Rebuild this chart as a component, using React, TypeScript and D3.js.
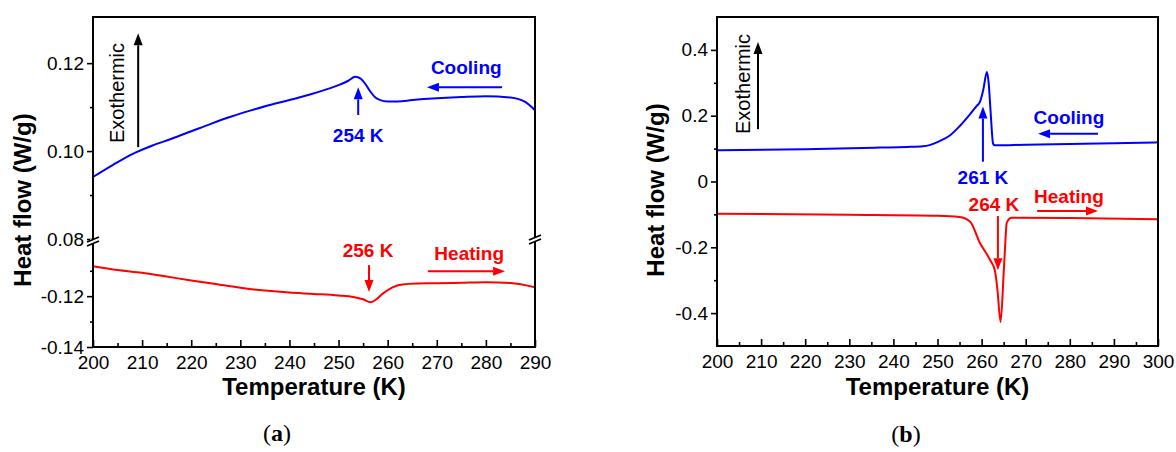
import { useRef, useEffect } from 'react';
import * as d3 from 'd3';

// panel (a): cooling / heating curves (temperature K, heat flow W/g)
const aCoolT = [200, 204, 208, 212, 216, 220, 224, 228, 232, 236, 240, 244, 248, 250, 252, 253.4, 254.5, 255.5, 256.5, 257.5, 258.5, 260, 262, 265, 270, 275, 280, 285, 288, 290];
const aCoolQ = [0.0941, 0.0968, 0.0993, 0.1012, 0.1028, 0.1045, 0.1062, 0.1078, 0.1092, 0.1105, 0.1116, 0.1128, 0.1142, 0.115, 0.116, 0.1169, 0.1165, 0.1152, 0.1135, 0.1122, 0.1116, 0.1113, 0.1113, 0.1116, 0.112, 0.1123, 0.1125, 0.1122, 0.1112, 0.1093];
const aHeatT = [200, 205, 210, 215, 220, 225, 230, 235, 240, 245, 250, 253, 255, 256.5, 257.5, 259, 261, 263, 266, 270, 275, 280, 285, 290];
const aHeatQ = [-0.1082, -0.1097, -0.1108, -0.1123, -0.1138, -0.1152, -0.1167, -0.1178, -0.1186, -0.1191, -0.1197, -0.1203, -0.1212, -0.1224, -0.1215, -0.119, -0.1165, -0.1154, -0.115, -0.1149, -0.1147, -0.1145, -0.1148, -0.1165];

// panel (b)
const bCoolT = [200, 220, 237, 243, 246.7, 250.5, 252.8, 255, 257.4, 258.9, 259.6, 260.4, 261.2, 261.6, 262.1, 262.6, 263, 270, 280, 290, 300];
const bCoolQ = [0.095, 0.098, 0.103, 0.105, 0.107, 0.123, 0.14, 0.168, 0.205, 0.23, 0.241, 0.28, 0.333, 0.3, 0.2, 0.115, 0.11, 0.112, 0.114, 0.116, 0.119];
const bHeatT = [200, 230, 250, 255, 257.4, 259.6, 261.9, 263, 263.6, 264.3, 265, 265.4, 265.7, 266.8, 280, 300];
const bHeatQ = [-0.098, -0.101, -0.104, -0.108, -0.122, -0.186, -0.238, -0.27, -0.33, -0.427, -0.28, -0.18, -0.125, -0.11, -0.111, -0.115];

const aXTicks = [200, 210, 220, 230, 240, 250, 260, 270, 280, 290];
const aXMinor = [205, 215, 225, 235, 245, 255, 265, 275, 285];
const bXTicks = [200, 210, 220, 230, 240, 250, 260, 270, 280, 290, 300];
const bXMinor = [205, 215, 225, 235, 245, 255, 265, 275, 285, 295];
const aTopTicks = [0.08, 0.1, 0.12];
const aTopMinor = [0.09, 0.11];
const aBotTicks = [-0.14, -0.12];
const aBotMinor = [-0.13, -0.11];
const bYTicks = [-0.4, -0.2, 0, 0.2, 0.4];
const bYMinor = [-0.3, -0.1, 0.1, 0.3];

const FONT = "'Liberation Sans', Arial, sans-serif";
const BLUE = '#0000ff';
const RED = '#ff0000';

// panel geometry
const A = { left: 93, right: 535, top: 17, bottom: 347, brk: 239 };
const B = { left: 717, right: 1158, top: 17, bottom: 346 };

const xA = d3.scaleLinear([200, 290], [A.left, A.right]);
const yATop = d3.scaleLinear([0.08, 0.1305], [A.brk, A.top]);
const yABot = d3.scaleLinear([-0.14, -0.0975], [A.bottom, A.brk]);
const xB = d3.scaleLinear([200, 300], [B.left, B.right]);
const yB = d3.scaleLinear([-0.5, 0.5], [B.bottom, B.top]);

function styleAxis(g: any) {
  g.select('.domain').remove();
  g.selectAll('line').attr('stroke', '#000').attr('stroke-width', 1.6);
  g.selectAll('text').attr('font-size', 19).attr('font-family', FONT).attr('fill', '#000');
}

function Arrow({ x1, y1, x2, y2, color }: { x1: number; y1: number; x2: number; y2: number; color: string }) {
  const ang = Math.atan2(y2 - y1, x2 - x1);
  const len = 12, hw = 4.5;
  const bx = x2 - len * Math.cos(ang), by = y2 - len * Math.sin(ang);
  const px = -Math.sin(ang) * hw, py = Math.cos(ang) * hw;
  return (
    <g>
      <line x1={x1} y1={y1} x2={bx} y2={by} stroke={color} strokeWidth={2} />
      <polygon points={`${x2},${y2} ${bx + px},${by + py} ${bx - px},${by - py}`} fill={color} />
    </g>
  );
}

function BreakMark({ x, y }: { x: number; y: number }) {
  return (
    <g stroke="#000" strokeWidth={1.8}>
      <rect x={x - 3} y={y - 2} width={6} height={4} fill="#fff" stroke="none" />
      <line x1={x - 6} y1={y + 1} x2={x + 6} y2={y - 4} />
      <line x1={x - 6} y1={y + 5} x2={x + 6} y2={y} />
    </g>
  );
}

export default function App() {
  const gaxA = useRef<SVGGElement>(null);
  const gaxAm = useRef<SVGGElement>(null);
  const gayT = useRef<SVGGElement>(null);
  const gayTm = useRef<SVGGElement>(null);
  const gayB = useRef<SVGGElement>(null);
  const gayBm = useRef<SVGGElement>(null);
  const gbx = useRef<SVGGElement>(null);
  const gbxm = useRef<SVGGElement>(null);
  const gby = useRef<SVGGElement>(null);
  const gbym = useRef<SVGGElement>(null);

  useEffect(() => {
    const f2 = (d: any) => (+d).toFixed(2);
    const fb = (d: any) => (+d === 0 ? '0' : (+d).toFixed(1));

    d3.select(gaxA.current!).call(d3.axisBottom(xA).tickValues(aXTicks).tickSize(-7).tickPadding(9).tickFormat(d3.format('d')) as any).call(styleAxis);
    d3.select(gaxAm.current!).call(d3.axisBottom(xA).tickValues(aXMinor).tickSize(-4).tickFormat(() => '') as any).call(styleAxis);
    d3.select(gayT.current!).call(d3.axisLeft(yATop).tickValues(aTopTicks).tickSize(6).tickPadding(3).tickFormat(f2) as any).call(styleAxis);
    d3.select(gayTm.current!).call(d3.axisLeft(yATop).tickValues(aTopMinor).tickSize(3).tickFormat(() => '') as any).call(styleAxis);
    d3.select(gayB.current!).call(d3.axisLeft(yABot).tickValues(aBotTicks).tickSize(6).tickPadding(3).tickFormat(f2) as any).call(styleAxis);
    d3.select(gayBm.current!).call(d3.axisLeft(yABot).tickValues(aBotMinor).tickSize(3).tickFormat(() => '') as any).call(styleAxis);

    d3.select(gbx.current!).call(d3.axisBottom(xB).tickValues(bXTicks).tickSize(-7).tickPadding(9).tickFormat(d3.format('d')) as any).call(styleAxis);
    d3.select(gbxm.current!).call(d3.axisBottom(xB).tickValues(bXMinor).tickSize(-4).tickFormat(() => '') as any).call(styleAxis);
    d3.select(gby.current!).call(d3.axisLeft(yB).tickValues(bYTicks).tickSize(6).tickPadding(3).tickFormat(fb) as any).call(styleAxis);
    d3.select(gbym.current!).call(d3.axisLeft(yB).tickValues(bYMinor).tickSize(3).tickFormat(() => '') as any).call(styleAxis);
  }, []);

  const lineATop = d3.line<number>((d, i) => xA(aCoolT[i]), (d) => yATop(d)).curve(d3.curveMonotoneX);
  const lineABot = d3.line<number>((d, i) => xA(aHeatT[i]), (d) => yABot(d)).curve(d3.curveMonotoneX);
  const lineBCool = d3.line<number>((d, i) => xB(bCoolT[i]), (d) => yB(d)).curve(d3.curveMonotoneX);
  const lineBHeat = d3.line<number>((d, i) => xB(bHeatT[i]), (d) => yB(d)).curve(d3.curveMonotoneX);

  return (
    <svg width={1176} height={452} style={{ position: 'absolute', left: 0, top: 0, background: '#fff' }} fontFamily={FONT}>
      {/* ---------- panel (a) ---------- */}
      <path d={lineATop(aCoolQ) ?? ''} fill="none" stroke={BLUE} strokeWidth={2} />
      <path d={lineABot(aHeatQ) ?? ''} fill="none" stroke={RED} strokeWidth={2} />
      <rect x={A.left} y={A.top} width={A.right - A.left} height={A.bottom - A.top} fill="none" stroke="#000" strokeWidth={2} />
      <g ref={gaxA} transform={`translate(0,${A.bottom})`} />
      <g ref={gaxAm} transform={`translate(0,${A.bottom})`} />
      <g ref={gayT} transform={`translate(${A.left},0)`} />
      <g ref={gayTm} transform={`translate(${A.left},0)`} />
      <g ref={gayB} transform={`translate(${A.left},0)`} />
      <g ref={gayBm} transform={`translate(${A.left},0)`} />
      <BreakMark x={A.left} y={A.brk + 2} />
      <BreakMark x={A.right} y={A.brk} />

      <text transform={`translate(31,200) rotate(-90)`} textAnchor="middle" fontSize={24} fontWeight="bold">Heat flow (W/g)</text>
      <text x={(A.left + A.right) / 2} y={395} textAnchor="middle" fontSize={24} fontWeight="bold">Temperature (K)</text>
      <text x={277} y={441} textAnchor="middle" fontSize={24} fontFamily="'Liberation Serif', serif">(<tspan fontWeight="bold">a</tspan>)</text>

      <text transform={`translate(124,93) rotate(-90)`} textAnchor="middle" fontSize={20}>Exothermic</text>
      <Arrow x1={xA(209.2)} y1={yATop(0.1009)} x2={xA(209.2)} y2={yATop(0.1268)} color="#000" />

      <text x={xA(276)} y={yATop(0.1176)} textAnchor="middle" fontSize={19} fontWeight="bold" fill={BLUE}>Cooling</text>
      <Arrow x1={xA(283.3)} y1={yATop(0.1145)} x2={xA(268)} y2={yATop(0.1145)} color={BLUE} />
      <text x={xA(254)} y={yATop(0.102)} textAnchor="middle" fontSize={19} fontWeight="bold" fill={BLUE}>254 K</text>
      <Arrow x1={xA(254)} y1={yATop(0.1082)} x2={xA(254)} y2={yATop(0.1145)} color={BLUE} />

      <text x={xA(256)} y={yABot(-0.1047)} textAnchor="middle" fontSize={19} fontWeight="bold" fill={RED}>256 K</text>
      <Arrow x1={xA(256.2)} y1={yABot(-0.1078)} x2={xA(256.2)} y2={yABot(-0.1184)} color={RED} />
      <text x={xA(276.6)} y={yABot(-0.1059)} textAnchor="middle" fontSize={19} fontWeight="bold" fill={RED}>Heating</text>
      <Arrow x1={xA(268.2)} y1={yABot(-0.1102)} x2={xA(283.9)} y2={yABot(-0.1102)} color={RED} />

      {/* ---------- panel (b) ---------- */}
      <path d={lineBCool(bCoolQ) ?? ''} fill="none" stroke={BLUE} strokeWidth={2} />
      <path d={lineBHeat(bHeatQ) ?? ''} fill="none" stroke={RED} strokeWidth={2} />
      <rect x={B.left} y={B.top} width={B.right - B.left} height={B.bottom - B.top} fill="none" stroke="#000" strokeWidth={2} />
      <g ref={gbx} transform={`translate(0,${B.bottom})`} />
      <g ref={gbxm} transform={`translate(0,${B.bottom})`} />
      <g ref={gby} transform={`translate(${B.left},0)`} />
      <g ref={gbym} transform={`translate(${B.left},0)`} />

      <text transform={`translate(664,190) rotate(-90)`} textAnchor="middle" fontSize={24} fontWeight="bold">Heat flow (W/g)</text>
      <text x={(B.left + B.right) / 2} y={395} textAnchor="middle" fontSize={24} fontWeight="bold">Temperature (K)</text>
      <text x={906} y={442} textAnchor="middle" fontSize={24} fontFamily="'Liberation Serif', serif">(<tspan fontWeight="bold">b</tspan>)</text>

      <text transform={`translate(750,84) rotate(-90)`} textAnchor="middle" fontSize={20}>Exothermic</text>
      <Arrow x1={xB(209.3)} y1={yB(0.159)} x2={xB(209.3)} y2={yB(0.424)} color="#000" />

      <text x={xB(279.8)} y={yB(0.176)} textAnchor="middle" fontSize={19} fontWeight="bold" fill={BLUE}>Cooling</text>
      <Arrow x1={xB(286.4)} y1={yB(0.145)} x2={xB(272.8)} y2={yB(0.145)} color={BLUE} />
      <text x={xB(260.3)} y={yB(-0.008)} textAnchor="middle" fontSize={19} fontWeight="bold" fill={BLUE}>261 K</text>
      <Arrow x1={xB(260.3)} y1={yB(0.06)} x2={xB(260.3)} y2={yB(0.228)} color={BLUE} />

      <text x={xB(262.8)} y={yB(-0.09)} textAnchor="middle" fontSize={19} fontWeight="bold" fill={RED}>264 K</text>
      <Arrow x1={xB(263.7)} y1={yB(-0.105)} x2={xB(263.7)} y2={yB(-0.27)} color={RED} />
      <text x={xB(279.8)} y={yB(-0.065)} textAnchor="middle" fontSize={19} fontWeight="bold" fill={RED}>Heating</text>
      <Arrow x1={xB(272.6)} y1={yB(-0.09)} x2={xB(286.4)} y2={yB(-0.09)} color={RED} />
    </svg>
  );
}
